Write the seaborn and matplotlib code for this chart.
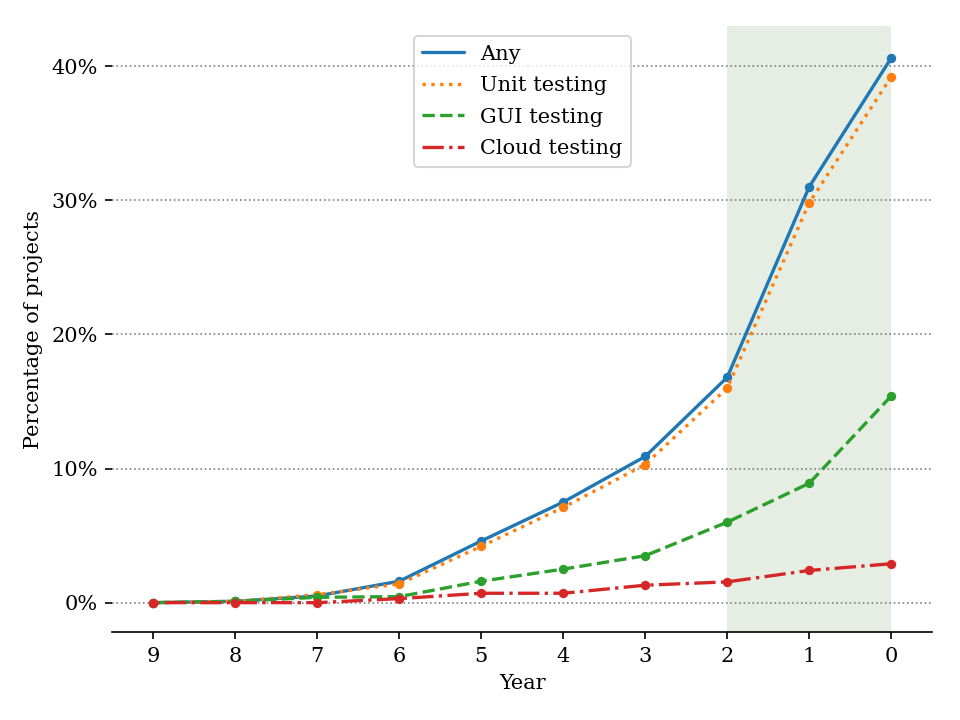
import pandas as pd
import numpy as np
import matplotlib
matplotlib.use("Agg")
import matplotlib.pyplot as plt
import seaborn as sns
from matplotlib.ticker import PercentFormatter

# ── Data (years before snapshot, % of projects) ─────────────────────────────
years = [9, 8, 7, 6, 5, 4, 3, 2, 1, 0]
any_test = [0.0, 0.1, 0.5, 1.6, 4.6, 7.5, 10.9, 16.8, 31.0, 40.6]
unit_test = [0.0, 0.1, 0.6, 1.4, 4.2, 7.1, 10.3, 16.0, 29.8, 39.2]
gui_test = [0.0, 0.1, 0.4, 0.45, 1.6, 2.5, 3.5, 6.0, 8.9, 15.4]
cloud_test = [0.0, 0.0, 0.0, 0.3, 0.7, 0.7, 1.3, 1.55, 2.4, 2.9]

series = {
    "Any": (any_test, "-", "#1f77b4"),
    "Unit testing": (unit_test, ":", "#ff7f0e"),
    "GUI testing": (gui_test, "--", "#2ca02c"),
    "Cloud testing": (cloud_test, "-.", "#d62728"),
}

sns.set_style("white")
plt.rcParams["font.family"] = ["DejaVu Serif"]
plt.rcParams["font.size"] = 10
for k in ["text.color", "axes.labelcolor", "xtick.color", "ytick.color"]:
    plt.rcParams[k] = "black"

fig, ax = plt.subplots(figsize=(6.4, 4.8), dpi=150)
fig.subplots_adjust(left=0.117, right=0.971, top=0.964, bottom=0.122)

# shaded window: last two years
ax.axvspan(2, 0, color="#e6eee4", zorder=0, lw=0)

for name, (vals, ls, col) in series.items():
    df = pd.DataFrame({"year": years, "pct": vals})
    sns.lineplot(data=df, x="year", y="pct", ax=ax, label=name, color=col,
                 linestyle=ls, linewidth=1.6, marker="o", markersize=4.5,
                 markeredgewidth=0)

ax.set_xlim(9.5, -0.5)
ax.set_ylim(-2.2, 43.0)
ax.set_xticks(years)
ax.set_yticks([0, 10, 20, 30, 40])
ax.yaxis.set_major_formatter(PercentFormatter(decimals=0))
ax.yaxis.grid(True, linestyle=":", color="gray", linewidth=0.8)
ax.set_axisbelow(True)
ax.set_xlabel("Year")
ax.set_ylabel("Percentage of projects")

for s in ["top", "right", "left"]:
    ax.spines[s].set_visible(False)
ax.spines["bottom"].set_color("black")
ax.spines["bottom"].set_linewidth(0.8)
ax.tick_params(axis="both", which="major", length=3.5, width=0.8,
               color="black", left=True, bottom=True, labelsize=10)

leg = ax.legend(loc="upper center", frameon=True, labelspacing=0.6)
leg.get_frame().set_edgecolor("#cccccc")
for ln in leg.get_lines():
    ln.set_marker("None")

plt.savefig("out.png", dpi=150)
